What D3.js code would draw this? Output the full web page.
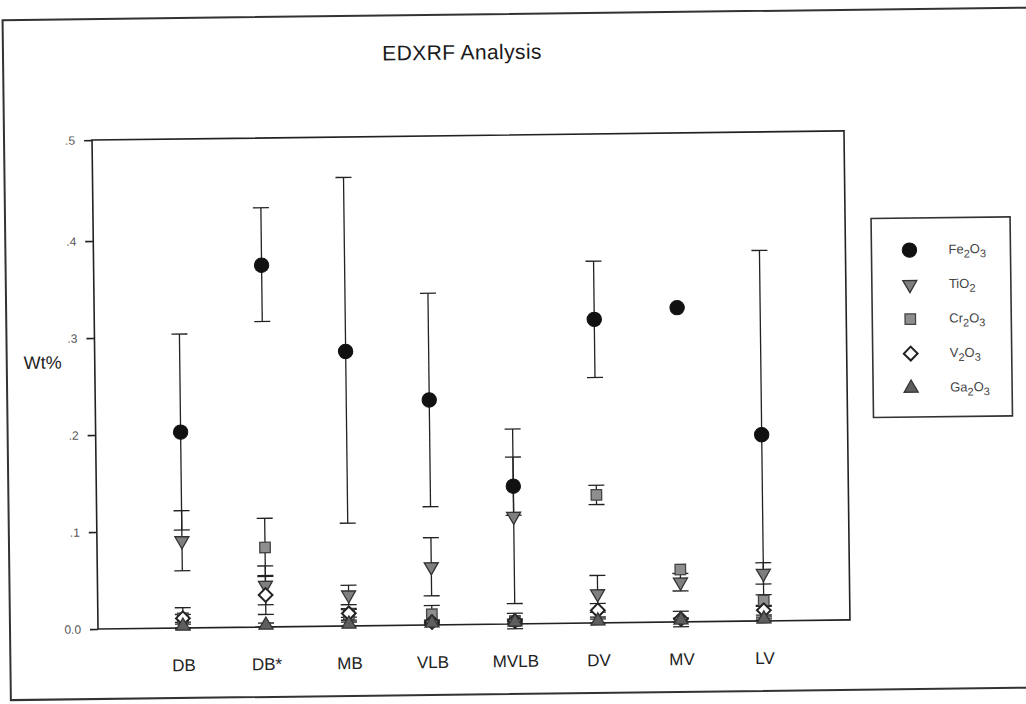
<!DOCTYPE html>
<html>
<head>
<meta charset="utf-8">
<script src="https://cdn.jsdelivr.net/npm/d3@7"></script>
<style>
  body { margin: 0; background: #fff; }
  text { font-family: "Liberation Sans", Arial, sans-serif; }
</style>
</head>
<body>
<div id="chart"></div>
<script>
// Data (mean and +/- error, Wt%)
var categories = ["DB", "DB*", "MB", "VLB", "MVLB", "DV", "MV", "LV"];
var fe2o3    = [0.202, 0.373, 0.283, 0.232, 0.142, 0.313, 0.324, 0.192];
var fe2o3Err = [0.101, 0.058, 0.177, 0.110, 0.030, 0.060, 0.000, 0.190];
var tio2     = [0.090, 0.043, 0.032, 0.060, 0.111, 0.030, 0.041, 0.049];
var tio2Err  = [0.031, 0.020, 0.010, 0.030, 0.090, 0.019, 0.009, 0.011];
var cr2o3    = [0.010, 0.082, 0.012, 0.011, 0.003, 0.132, 0.054, 0.021];
var cr2o3Err = [0.011, 0.030, 0.006, 0.009, 0.008, 0.010, 0.000, 0.006];
var v2o3     = [0.010, 0.033, 0.013, 0.003, 0.003, 0.013, 0.003, 0.011];
var v2o3Err  = [0.004, 0.020, 0.004, 0.002, 0.002, 0.007, 0.008, 0.005];
var ga2o3    = [0.002, 0.002, 0.002, 0.002, 0.002, 0.002, 0.002, 0.002];
var ga2o3Err = [0.002, 0.002, 0.002, 0.002, 0.002, 0.002, 0.002, 0.002];
var yTicks = [0, 0.1, 0.2, 0.3, 0.4, 0.5];

var series = [
  {name: "Fe", sub1: "2", mid: "O", sub2: "3", values: fe2o3, err: fe2o3Err, shape: "circle"},
  {name: "Ti", sub1: "", mid: "O", sub2: "2", values: tio2, err: tio2Err, shape: "down"},
  {name: "Cr", sub1: "2", mid: "O", sub2: "3", values: cr2o3, err: cr2o3Err, shape: "square"},
  {name: "V", sub1: "2", mid: "O", sub2: "3", values: v2o3, err: v2o3Err, shape: "diamond"},
  {name: "Ga", sub1: "2", mid: "O", sub2: "3", values: ga2o3, err: ga2o3Err, shape: "up"}
];

var W = 1026, H = 704;
var plot = {left: 95, right: 847, top: 139, bottom: 628};

// the scanned page sits a little tilted
var svg = d3.select("#chart").append("svg")
  .attr("width", W).attr("height", H)
  .append("g")
  .attr("transform", "rotate(-0.7,182,382)");

// outer frame
svg.append("rect")
  .attr("x", 7).attr("y", 18)
  .attr("width", 1040).attr("height", 680)
  .attr("fill", "none").attr("stroke", "#333").attr("stroke-width", 2);

// title
svg.append("text")
  .attr("x", 466).attr("y", 63)
  .attr("text-anchor", "middle")
  .style("font-size", "21px").style("letter-spacing", "0.4px").attr("fill", "#1a1a1a")
  .text("EDXRF Analysis");

var x = d3.scalePoint()
  .domain(categories)
  .range([180, 761]);

// scan stretch: top tick interval is a bit longer than the others
var y = d3.scaleLinear()
  .domain([0, 0.4, 0.5])
  .range([plot.bottom, 240, plot.top]);

// plot box
svg.append("rect")
  .attr("x", plot.left).attr("y", plot.top)
  .attr("width", plot.right - plot.left).attr("height", plot.bottom - plot.top)
  .attr("fill", "none").attr("stroke", "#222").attr("stroke-width", 1.6);

// y axis
var yAxis = svg.append("g")
  .attr("transform", "translate(" + plot.left + ",0)")
  .call(d3.axisLeft(y)
    .tickValues(yTicks)
    .tickSize(8)
    .tickSizeOuter(0)
    .tickPadding(9)
    .tickFormat(function(d) { return d === 0 ? "0.0" : "." + Math.round(d * 10); }));
yAxis.select(".domain").remove();
yAxis.selectAll("line").attr("stroke", "#222").attr("stroke-width", 1.6);
yAxis.selectAll("text").style("font-size", "12px").attr("fill", "#555")
  .style("font-family", "'Liberation Sans', Arial, sans-serif");

svg.append("text")
  .attr("x", 24).attr("y", 367)
  .style("font-size", "18px").attr("fill", "#222")
  .text("Wt%");

// x axis labels
var xAxis = svg.append("g")
  .attr("transform", "translate(0," + plot.bottom + ")")
  .call(d3.axisBottom(x).tickSize(0).tickPadding(31));
xAxis.select(".domain").remove();
xAxis.selectAll("text").style("font-size", "17px").attr("fill", "#222")
  .style("font-family", "'Liberation Sans', Arial, sans-serif");

// marker drawing
function drawMarker(g, shape) {
  if (shape === "circle") {
    g.append("circle").attr("r", 7.2).attr("fill", "#111").attr("stroke", "#111");
  } else if (shape === "down") {
    g.append("path").attr("d", d3.symbol(d3.symbolTriangle, 85)())
      .attr("transform", "rotate(180)")
      .attr("fill", "#7f7f7f").attr("stroke", "#333").attr("stroke-width", 1.3);
  } else if (shape === "square") {
    g.append("path").attr("d", d3.symbol(d3.symbolSquare, 110)())
      .attr("fill", "#8e8e8e").attr("stroke", "#444").attr("stroke-width", 1.3);
  } else if (shape === "diamond") {
    g.append("path").attr("d", d3.symbol(d3.symbolSquare, 95)())
      .attr("transform", "rotate(45)")
      .attr("fill", "#fff").attr("stroke", "#222").attr("stroke-width", 2);
  } else {
    g.append("path").attr("d", d3.symbol(d3.symbolTriangle, 85)())
      .attr("fill", "#5e5e5e").attr("stroke", "#333").attr("stroke-width", 1.3);
  }
}

// error bars
var cap = 8;
series.forEach(function(s) {
  var bars = svg.append("g").selectAll("g")
    .data(categories.map(function(c, i) { return {cat: c, v: s.values[i], e: s.err[i]}; })
      .filter(function(d) { return d.e > 0; }))
    .enter().append("g")
    .attr("stroke", "#222").attr("stroke-width", 1.3);
  bars.append("line")
    .attr("x1", function(d) { return x(d.cat); })
    .attr("x2", function(d) { return x(d.cat); })
    .attr("y1", function(d) { return y(d.v + d.e); })
    .attr("y2", function(d) { return y(d.v - d.e); });
  bars.append("line")
    .attr("x1", function(d) { return x(d.cat) - cap; })
    .attr("x2", function(d) { return x(d.cat) + cap; })
    .attr("y1", function(d) { return y(d.v + d.e); })
    .attr("y2", function(d) { return y(d.v + d.e); });
  bars.append("line")
    .attr("x1", function(d) { return x(d.cat) - cap; })
    .attr("x2", function(d) { return x(d.cat) + cap; })
    .attr("y1", function(d) { return y(d.v - d.e); })
    .attr("y2", function(d) { return y(d.v - d.e); });
});

// points
series.forEach(function(s) {
  svg.append("g").selectAll("g")
    .data(categories.map(function(c, i) { return {cat: c, v: s.values[i]}; }))
    .enter().append("g")
    .attr("transform", function(d) { return "translate(" + x(d.cat) + "," + y(d.v) + ")"; })
    .each(function() { drawMarker(d3.select(this), s.shape); });
});

// legend
var legend = svg.append("g");
legend.append("rect")
  .attr("x", 873).attr("y", 227).attr("width", 139).attr("height", 199)
  .attr("fill", "#fff").attr("stroke", "#333").attr("stroke-width", 1.6);

var rows = legend.selectAll(".row").data(series).enter().append("g")
  .attr("class", "row")
  .attr("transform", function(d, i) { return "translate(0," + (259 + i * 34.5) + ")"; });
rows.each(function(d) {
  var g = d3.select(this).append("g").attr("transform", "translate(911,0)");
  drawMarker(g, d.shape);
});
var lt = rows.append("text")
  .attr("x", 950).attr("y", 4)
  .style("font-size", "13px").attr("fill", "#444");
lt.append("tspan").text(function(d) { return d.name; });
lt.append("tspan").attr("dy", 4).style("font-size", "11px").text(function(d) { return d.sub1; });
lt.append("tspan").attr("dy", function(d) { return d.sub1 ? -4 : 0; }).text(function(d) { return d.mid; });
lt.append("tspan").attr("dy", 4).style("font-size", "11px").text(function(d) { return d.sub2; });
</script>
</body>
</html>
